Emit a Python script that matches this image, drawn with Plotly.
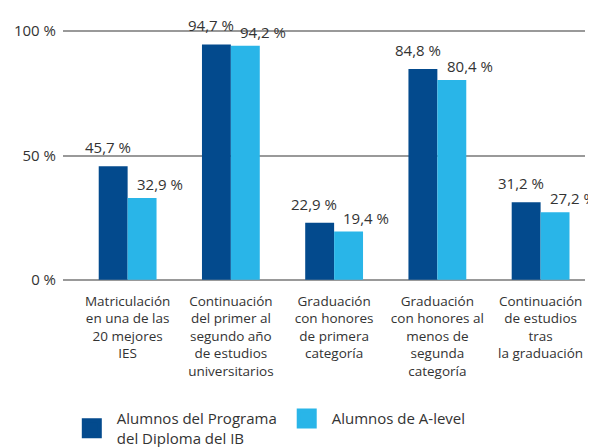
import plotly.graph_objects as go

categories = [
    "Matriculación<br>en una de las<br>20 mejores<br>IES",
    "Continuación<br>del primer al<br>segundo año<br>de estudios<br>universitarios",
    "Graduación<br>con honores<br>de primera<br>categoría",
    "Graduación<br>con honores al<br>menos de<br>segunda<br>categoría",
    "Continuación<br>de estudios<br>tras<br>la graduación",
]
ib_values = [45.7, 94.7, 22.9, 84.8, 31.2]
alevel_values = [32.9, 94.2, 19.4, 80.4, 27.2]
series_names = ["Alumnos del Programa<br>del Diploma del IB", "Alumnos de A-level"]
tick_values = [0, 50, 100]
tick_labels = ["0 %", "50 %", "100 %"]

DARK = "#034a8d"
LIGHT = "#29b5e8"
FONT = "Open Sans"
TEXT = "#333333"


def fmt(v):
    return f"{v:.1f}".replace(".", ",") + " %"


fig = go.Figure()
for name, vals, color in [
    (series_names[0], ib_values, DARK),
    (series_names[1], alevel_values, LIGHT),
]:
    fig.add_trace(
        go.Bar(
            x=list(range(len(categories))),
            y=vals,
            name=name,
            marker=dict(color=color, line=dict(width=0)),
            showlegend=False,
        )
    )
    # legend entry with a bigger square swatch
    fig.add_trace(
        go.Scatter(
            x=[None],
            y=[None],
            mode="markers",
            name=name,
            marker=dict(symbol="square", size=16, color=color,
                        line=dict(color=color, width=4)),
        )
    )

# value labels: IB label ends just right of the group centre, A-level starts there
for i, (ib, al) in enumerate(zip(ib_values, alevel_values)):
    fig.add_annotation(
        x=i + 0.05, y=ib, text=fmt(ib), showarrow=False,
        xanchor="right", yanchor="bottom", yshift=7,
        font=dict(size=15, color=TEXT, family=FONT),
    )
    fig.add_annotation(
        x=i + 0.07, y=al, text=fmt(al), showarrow=False,
        xanchor="left", yanchor="bottom", yshift=2,
        font=dict(size=15, color=TEXT, family=FONT),
    )

# page body has an 8px margin, so the figure is 8px smaller than the window
fig.update_layout(
    width=588,
    height=439,
    barmode="group",
    bargap=0.44,
    bargroupgap=0,
    plot_bgcolor="white",
    paper_bgcolor="white",
    font=dict(family=FONT, color=TEXT),
    margin=dict(l=55, r=11, t=21, b=165),
    showlegend=True,
    legend=dict(
        orientation="h",
        xref="container",
        yref="container",
        x=0.1,
        y=0.102,
        xanchor="left",
        yanchor="top",
        font=dict(size=15, color=TEXT),
        itemwidth=40,
        traceorder="normal",
    ),
)
fig.update_xaxes(
    tickmode="array",
    tickvals=list(range(len(categories))),
    ticktext=categories,
    range=[-0.626, 4.43],
    tickfont=dict(size=13.5, color=TEXT),
    tickangle=0,
    showgrid=False,
    zeroline=False,
    showline=False,
    ticks="",
    ticklabelstandoff=9,
    automargin=False,
)
fig.update_yaxes(
    range=[-0.9, 100.9],
    tickmode="array",
    tickvals=tick_values,
    ticktext=tick_labels,
    tickfont=dict(size=15, color=TEXT),
    showgrid=True,
    gridcolor="#999999",
    gridwidth=1.5,
    zeroline=False,
    showline=False,
    ticks="",
    ticklabelstandoff=6,
    automargin=False,
)

fig.write_html("out.html")
